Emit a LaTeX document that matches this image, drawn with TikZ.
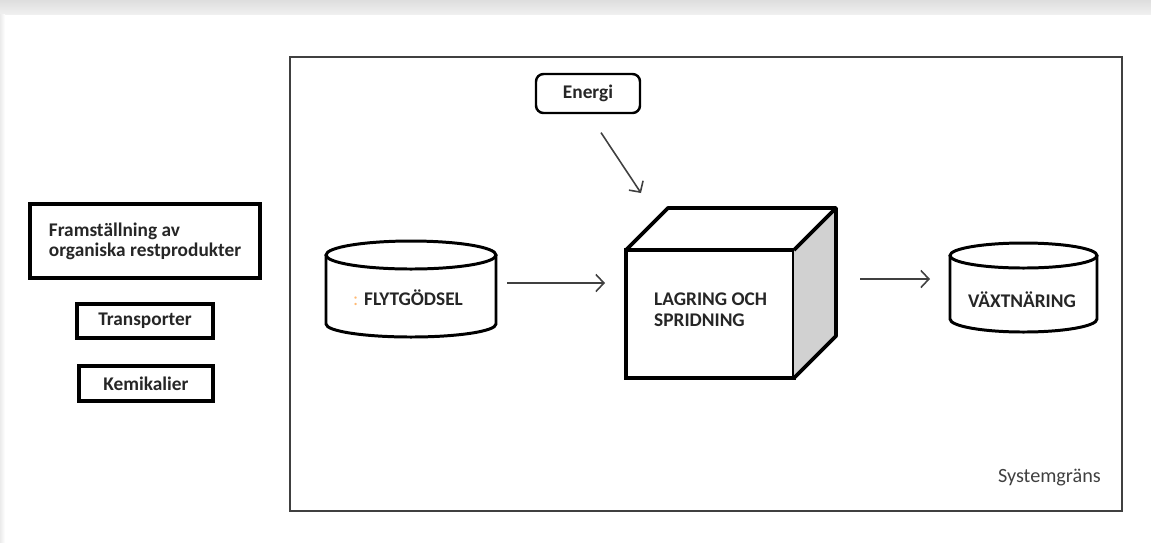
\documentclass[tikz,border=0pt]{standalone}
\usepackage{fontspec}
\setmainfont{Carlito}
\usetikzlibrary{arrows.meta, positioning, calc}

\begin{document}
\begin{tikzpicture}[
    box/.style={draw, line width=2.2pt, outer sep=0pt, inner sep=0pt, font=\fontsize{11}{11.5}\selectfont\bfseries, text=black!85},
    tank/.style={draw, line width=1.7pt},
    pfeil/.style={draw=black!75, line width=0.9pt, -{Straight Barb[length=1.6mm, width=3.4mm]}},
    txt/.style={font=\fontsize{11}{12}\selectfont\bfseries, text=black!85},
    hull/.style={minimum width=#1, inner sep=0pt, outer sep=0pt}
]
    % Hintergrund
    \useasboundingbox (0,0) rectangle (23.02,-10.84);
    \shade[top color=black!13, bottom color=black!6] (0,0) rectangle (23.02,-0.28);
    \shade[left color=black!8, right color=white] (0,-0.28) rectangle (0.1,-10.84);

    % Systemgrenze
    \draw[line width=1pt, black!75] (5.8,-1.14) rectangle (22.44,-10.22);
    \node[anchor=east, text=black!75, font=\fontsize{11.5}{13}\selectfont] (grenze) at (22.14,-9.56) {Systemgräns};

    % Kästen links
    \node[box, minimum width=4.6cm, minimum height=1.48cm, align=left] (fram) at (2.9,-4.82) {Framställning av\\organiska restprodukter};
    \node[box, minimum width=2.72cm, minimum height=0.68cm] (trans) at (2.9,-6.42) {Transporter};
    \node[box, minimum width=2.68cm, minimum height=0.7cm] (kemi) at (2.92,-7.67) {Kemikalier};

    % Energi
    \node[box, line width=1.4pt, rounded corners=0.15cm, minimum width=2.08cm, minimum height=0.78cm] (energi) at (11.76,-1.87) {Energi};

    % Lagring (Quader)
    \node[box, minimum width=3.36cm, minimum height=2.56cm] (lager) at (14.2,-6.28) {};
    \fill[black!18] (lager.north east) -- ++(0.84,0.84) -- ++(0,-2.56) -- (lager.south east) -- cycle;
    \draw[line width=2.2pt, line join=round] (lager.north west) -- ++(0.84,0.84) -- ++(3.36,0) -- ++(0,-2.56) -- (lager.south east);
    \draw[line width=2.2pt] (lager.north east) -- ++(0.84,0.84);
    \node[txt, anchor=west, align=left] (lagertxt) at ([xshift=0.44cm, yshift=0.08cm]lager.west) {LAGRING OCH\\SPRIDNING};

    % Flytgödsel (Zylinder)
    \node[hull=3.4cm, minimum height=1.92cm] (flyt) at (8.22,-5.78) {};
    \draw[tank] (8.22,-5.1) ellipse [x radius=1.7, y radius=0.28];
    \draw[tank] (6.52,-5.1) -- (6.52,-6.48) arc[start angle=180, end angle=360, x radius=1.7, y radius=0.26] -- (9.92,-5.1);
    \node[txt] (flyttxt) at (8.16,-5.96) {{\mdseries\color{orange!55}:} FLYTGÖDSEL};

    % Växtnäring (Zylinder)
    \node[hull=2.94cm, minimum height=1.78cm] (vaxt) at (20.47,-5.75) {};
    \draw[tank] (20.47,-5.11) ellipse [x radius=1.47, y radius=0.25];
    \draw[tank] (19.0,-5.11) -- (19.0,-6.38) arc[start angle=180, end angle=360, x radius=1.47, y radius=0.26] -- (21.94,-5.11);
    \node[txt] (vaxttxt) at (20.44,-6.0) {VÄXTNÄRING};

    % Pfeile
    \draw[pfeil, shorten <=0.47cm] (energi.south) -- ([shift={(0.3,1.14)}]lager.north west);
    \draw[pfeil, shorten <=0.22cm, shorten >=0.42cm] ([yshift=0.12cm]flyt.east) -- ([yshift=0.62cm]lager.west);
    \draw[pfeil, shorten <=1.32cm, shorten >=0.4cm] ([yshift=0.7cm]lager.east) -- ([yshift=0.17cm]vaxt.west);
\end{tikzpicture}
\end{document}
